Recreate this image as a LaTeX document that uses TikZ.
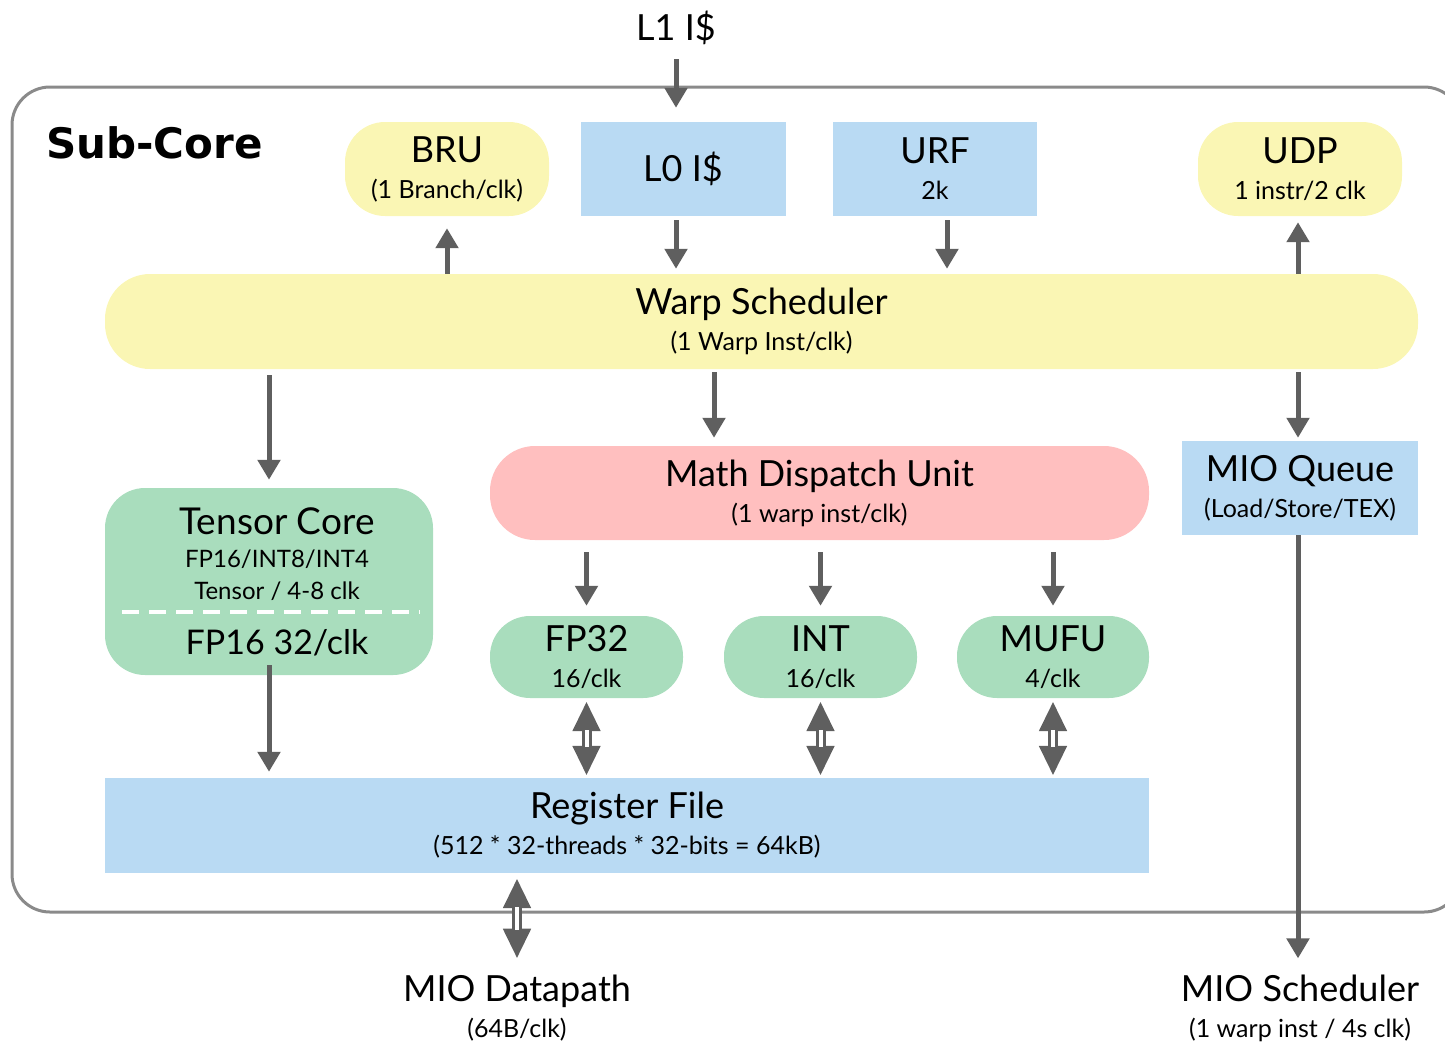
\documentclass[tikz,border=0pt]{standalone}
\usepackage{fontspec}
\setmainfont{Lato}
\newfontfamily\subcorefont{DejaVu Sans}
\usetikzlibrary{arrows.meta}
\definecolor{yel}{RGB}{250,246,180}
\definecolor{blu}{RGB}{185,218,243}
\definecolor{pnk}{RGB}{255,191,191}
\definecolor{grn}{RGB}{169,221,189}
\definecolor{arrgray}{RGB}{95,95,95}
\definecolor{bordergray}{RGB}{138,138,138}
\newcommand\bigtxt{\fontsize{36}{40}\selectfont}
\newcommand\smtxt{\fontsize{25}{36}\selectfont}
\begin{document}
\begin{tikzpicture}[x=1pt,y=-1pt,
  blk/.style={inner sep=0pt, align=center, text=black, font=\smtxt},
  pillbox/.style={blk, fill=#1, rounded corners=40pt},
  sqbox/.style={blk, fill=#1},
  arr/.style={draw=arrgray, line width=5pt, -{Triangle[length=20pt,width=22pt]}},
  dblarr/.style={draw=arrgray, line width=10pt, {Triangle[length=30pt,width=26pt]}-{Triangle[length=30pt,width=26pt]}},
  dblgap/.style={draw=white, line width=4pt}
]
\useasboundingbox (0,0) rectangle (1445,1042);
\clip (0,0) rectangle (1445,1042);
% outer frame
\draw[draw=bordergray, line width=3pt, rounded corners=38pt] (12,87) rectangle (1462,912);
\node[blk, font=\subcorefont\bfseries\fontsize{42}{44}\selectfont, anchor=west] (sub) at (46,143) {Sub-Core};

% top row
\node[blk, font=\bigtxt] (l1) at (676,28) {L1 I\$};
\node[pillbox=yel, minimum width=204pt, minimum height=94pt] (bru) at (447,169) {{\bigtxt BRU}\\(1 Branch/clk)};
\node[sqbox=blu, minimum width=205pt, minimum height=94pt, font=\bigtxt] (l0) at (683,169) {L0 I\$};
\node[sqbox=blu, minimum width=204pt, minimum height=94pt] (urf) at (935,169) {{\bigtxt URF}\\2k};
\node[pillbox=yel, minimum width=204pt, minimum height=94pt] (udp) at (1300,169) {{\bigtxt UDP}\\1 instr/2 clk};

% warp scheduler
\node[pillbox=yel, minimum width=1313pt, minimum height=95pt, rounded corners=45pt] (ws) at (761.5,321.5) {{\bigtxt Warp Scheduler}\\(1 Warp Inst/clk)};

% tensor core
\node[blk, fill=grn, rounded corners=40pt, minimum width=328pt, minimum height=187pt] (tc) at (269,581.5) {};
\node[blk, font=\fontsize{37}{40}\selectfont] (tct) at (277,521) {Tensor Core};
\node[blk, font=\fontsize{24}{28}\selectfont] (tc1) at (277,559) {FP16/INT8/INT4};
\node[blk, font=\fontsize{24}{28}\selectfont] (tc2) at (277,591) {Tensor / 4-8 clk};
\node[blk, font=\fontsize{34}{40}\selectfont] (tc3) at (277,643) {FP16 32/clk};
\coordinate (dl) at (122,612);
\coordinate (dr) at (420,612);
\draw[white, line width=4pt, dash pattern=on 17pt off 10pt] (dl) -- (dr);

% math dispatch
\node[pillbox=pnk, minimum width=659pt, minimum height=94pt, rounded corners=45pt] (mdu) at (819.5,493) {{\bigtxt Math Dispatch Unit}\\(1 warp inst/clk)};
\node[sqbox=blu, minimum width=236pt, minimum height=94pt] (mioq) at (1300,488) {{\bigtxt MIO Queue}\\(Load/Store/TEX)};

% units
\node[pillbox=grn, minimum width=193pt, minimum height=82pt] (fp32) at (586.5,657) {{\bigtxt FP32}\\16/clk};
\node[pillbox=grn, minimum width=193pt, minimum height=82pt] (int) at (820.5,657) {{\bigtxt INT}\\16/clk};
\node[pillbox=grn, minimum width=192pt, minimum height=82pt] (mufu) at (1053,657) {{\bigtxt MUFU}\\4/clk};

% register file
\node[sqbox=blu, minimum width=1044pt, minimum height=95pt] (rf) at (627,825.5) {{\bigtxt Register File}\\(512 * 32-threads * 32-bits = 64kB)};

% bottom labels
\node[blk] (miod) at (517,1008) {{\bigtxt MIO Datapath}\\(64B/clk)};
\node[blk] (mios) at (1300,1008) {{\bigtxt MIO Scheduler}\\(1 warp inst / 4s clk)};

% arrows
\draw[arr, shorten <=14pt, shorten >=14pt] (l1.south) -- (l1.south |- l0.north);
\draw[arr, shorten >=12pt] (bru.south |- ws.north) -- (bru.south);
\draw[arr, shorten <=4pt, shorten >=5pt] ([xshift=-7pt]l0.south) -- ([xshift=-7pt]l0.south |- ws.north);
\draw[arr, shorten <=4pt, shorten >=5pt] ([xshift=12pt]urf.south) -- ([xshift=12pt]urf.south |- ws.north);
\draw[arr, shorten >=6pt] ([xshift=-2pt]udp.south |- ws.north) -- ([xshift=-2pt]udp.south);
\draw[arr, shorten <=6pt, shorten >=8pt] (tc.north |- ws.south) -- (tc.north);
\draw[arr, shorten <=3pt, shorten >=8pt] ([xshift=-105.5pt]mdu.north |- ws.south) -- ([xshift=-105.5pt]mdu.north);
\draw[arr, shorten <=3pt, shorten >=3pt] ([xshift=-2pt]mioq.north |- ws.south) -- ([xshift=-2pt]mioq.north);
\draw[arr, shorten <=-10pt, shorten >=6pt] (tc.south) -- (tc.south |- rf.north);
\draw[arr, shorten <=12pt, shorten >=10pt] (fp32.north |- mdu.south) -- (fp32.north);
\draw[arr, shorten <=12pt, shorten >=10pt] (int.north |- mdu.south) -- (int.north);
\draw[arr, shorten <=12pt, shorten >=10pt] (mufu.north |- mdu.south) -- (mufu.north);
\draw[arr, shorten >=16pt] ([xshift=-2pt]mioq.south) -- ([xshift=-2pt]mioq.south |- mios.north);

\foreach \u in {fp32,int,mufu}{
  \draw[dblarr, shorten <=3pt, shorten >=2pt] (\u.south) -- (\u.south |- rf.north);
  \draw[dblgap, shorten <=32pt, shorten >=31pt] (\u.south) -- (\u.south |- rf.north);
}
\draw[dblarr, shorten <=5pt, shorten >=16pt] (miod.north |- rf.south) -- (miod.north);
\draw[dblgap, shorten <=34pt, shorten >=45pt] (miod.north |- rf.south) -- (miod.north);
\end{tikzpicture}
\end{document}
